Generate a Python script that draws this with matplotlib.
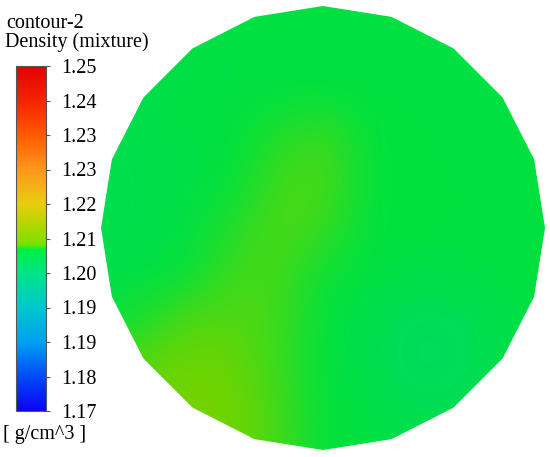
import numpy as np
import matplotlib
matplotlib.use('Agg')
import matplotlib.pyplot as plt
from matplotlib.colors import LinearSegmentedColormap, Normalize
from matplotlib.cm import ScalarMappable
from matplotlib.patches import RegularPolygon
from matplotlib.ticker import FormatStrFormatter

plt.rcParams['font.family'] = ['Liberation Serif', 'DejaVu Serif']

# Legend texts and range
legend_title = 'contour-2'
legend_quantity = 'Density (mixture)'
legend_units = '[ g/cm^3 ]'
density_min, density_max = 1.17, 1.25
n_ticks = 11

# Fluent style rainbow
cmap_values = [1.170, 1.178, 1.186, 1.194, 1.202, 1.2075, 1.2085, 1.213, 1.218, 1.226, 1.234, 1.242, 1.250]
cmap_colors = [(15, 0, 245), (0, 75, 245), (0, 160, 240), (0, 200, 205), (0, 228, 135), (0, 240, 65),
               (120, 225, 0), (175, 215, 0), (230, 205, 15), (255, 150, 30), (255, 90, 0), (245, 35, 0),
               (225, 0, 0)]

# Density samples on the section (x left->right, y top->bottom), g/cm^3
grid_x = np.linspace(-1, 1, 11)
grid_y = np.linspace(1, -1, 11)
density = np.array([
    [1.2066, 1.2068, 1.2070, 1.2071, 1.2071, 1.2071, 1.2071, 1.2071, 1.2071, 1.2071, 1.2071],
    [1.2064, 1.2066, 1.2069, 1.2071, 1.2071, 1.2071, 1.2072, 1.2072, 1.2071, 1.2071, 1.2071],
    [1.2063, 1.2066, 1.2069, 1.2071, 1.2072, 1.2073, 1.2073, 1.2072, 1.2072, 1.2072, 1.2072],
    [1.2062, 1.2064, 1.2069, 1.2074, 1.2078, 1.2081, 1.2075, 1.2074, 1.2072, 1.2072, 1.2072],
    [1.2061, 1.2062, 1.2068, 1.2075, 1.2081, 1.2082, 1.2075, 1.2075, 1.2073, 1.2072, 1.2072],
    [1.2061, 1.2063, 1.2070, 1.2078, 1.2082, 1.2080, 1.2074, 1.2075, 1.2073, 1.2074, 1.2074],
    [1.2063, 1.2068, 1.2075, 1.2081, 1.2081, 1.2076, 1.2074, 1.2066, 1.2068, 1.2071, 1.2073],
    [1.2072, 1.2077, 1.2082, 1.2082, 1.2081, 1.2074, 1.2065, 1.2050, 1.2052, 1.2065, 1.2070],
    [1.2080, 1.2083, 1.2085, 1.2084, 1.2080, 1.2074, 1.2062, 1.2046, 1.2048, 1.2065, 1.2068],
    [1.2084, 1.2087, 1.2087, 1.2086, 1.2081, 1.2075, 1.2070, 1.2055, 1.2058, 1.2064, 1.2066],
    [1.2086, 1.2088, 1.2088, 1.2086, 1.2081, 1.2075, 1.2072, 1.2065, 1.2064, 1.2064, 1.2066],
])

W, H = 550, 457


def fig_box(left, top, width, height):
    # pixel box (from top-left) -> figure fraction rect
    return [left / W, 1 - (top + height) / H, width / W, height / H]


positions = (np.array(cmap_values) - density_min) / (density_max - density_min)
rgb = np.array(cmap_colors) / 255.0
cmap = LinearSegmentedColormap.from_list('fluent', list(zip(positions, rgb)), N=4096)
# surface is drawn with a bit of lighting, so slightly darker than the bar
lit_cmap = LinearSegmentedColormap.from_list('fluent_lit', list(zip(positions, rgb * 0.94)), N=4096)
norm = Normalize(density_min, density_max)

fig = plt.figure(figsize=(W / 100, H / 100), dpi=100)

# Section
r_px = 222
ax = fig.add_axes(fig_box(323 - r_px - 3, 228 - r_px - 3, 2 * r_px + 6, 2 * r_px + 6))
lim = (r_px + 3) / r_px
ax.set_xlim(-lim, lim)
ax.set_ylim(-lim, lim)
ax.axis('off')
step = grid_x[1] - grid_x[0]
im = ax.imshow(density, cmap=lit_cmap, norm=norm, origin='upper', aspect='auto',
               extent=(grid_x[0] - step / 2, grid_x[-1] + step / 2,
                       grid_y[-1] - step / 2, grid_y[0] + step / 2),
               interpolation='bicubic', interpolation_stage='rgba')
outline = RegularPolygon((0, 0), numVertices=20, radius=1, orientation=0,
                         transform=ax.transData, facecolor='none', edgecolor='none')
ax.add_patch(outline)
im.set_clip_path(outline)

# Colour bar
cax = fig.add_axes(fig_box(16, 66, 30, 345))
cb = fig.colorbar(ScalarMappable(norm=norm, cmap=cmap), cax=cax,
                  ticks=np.linspace(density_min, density_max, n_ticks))
cb.ax.yaxis.set_major_formatter(FormatStrFormatter('%.2f'))
cb.outline.set_edgecolor('#555555')
cb.outline.set_linewidth(0.8)
cax.tick_params(length=3, width=0.8, color='#555555', pad=8, labelsize=14.5)

fig.text(6 / W, 1 - 28 / H, legend_title, fontsize=14.5, va='baseline', ha='left')
fig.text(5 / W, 1 - 47 / H, legend_quantity, fontsize=14.5, va='baseline', ha='left')
fig.text(3 / W, 1 - 439 / H, legend_units, fontsize=14.5, va='baseline', ha='left')

fig.savefig('out.png', dpi=100)
